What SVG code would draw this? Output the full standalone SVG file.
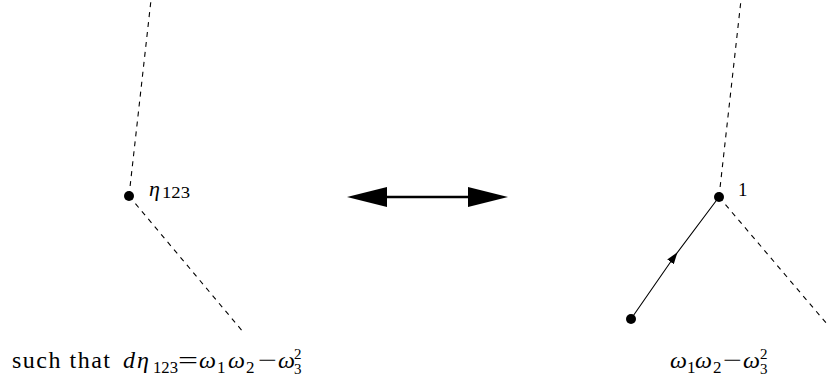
<svg xmlns="http://www.w3.org/2000/svg" width="830" height="382" viewBox="0 0 830 382">
<style>
.dash{stroke:#000;stroke-width:1.1;stroke-dasharray:5,5;fill:none}
.solid{stroke:#000;stroke-width:1.1;fill:none}
.t{font-family:"Liberation Serif","DejaVu Serif",serif;font-size:24px;fill:#000}
.i{font-style:italic}
.s{font-family:"Liberation Serif","DejaVu Serif",serif;font-size:17px;fill:#000}
</style>
<defs>
<marker id="mid" markerWidth="12" markerHeight="8" refX="6" refY="4" orient="auto" markerUnits="userSpaceOnUse">
<path d="M0,0 L12,4 L0,8 Z" fill="#000"/>
</marker>
</defs>
<g id="connectors">
<line class="dash" x1="129" y1="196" x2="151" y2="0"/>
<line class="dash" x1="129" y1="196" x2="244" y2="333"/>
<line class="dash" x1="719" y1="197" x2="741" y2="0"/>
<line class="dash" x1="719" y1="197" x2="827" y2="324"/>
<path class="solid" d="M631,319 L674,257 L719,197" marker-mid="url(#mid)"/>
<g id="double-arrow">
<line x1="380" y1="197" x2="475" y2="197" stroke="#000" stroke-width="2.7"/>
<path d="M347,197 L387,187 L387,207 Z" fill="#000"/>
<path d="M508,197 L468,187 L468,207 Z" fill="#000"/>
</g>
</g>
<g id="node-left">
<circle cx="129" cy="196" r="5" fill="#000"/>
<text class="t i" x="149" y="196" style="font-size:22px">η</text>
<text class="s" x="162" y="198" textLength="28" lengthAdjust="spacingAndGlyphs">123</text>
</g>
<g id="node-right">
<circle cx="719" cy="197" r="5" fill="#000"/>
<text class="s" x="738" y="196" style="font-size:19px">1</text>
</g>
<g id="node-bottom">
<circle cx="631" cy="319" r="5" fill="#000"/>
</g>
<g id="label-left">
<text class="t" x="12" y="368" textLength="98" lengthAdjust="spacing">such that</text>
<text class="t i" x="123" y="368">d</text>
<text class="t i" x="137" y="368">η</text>
<text class="s" x="153" y="373" textLength="25" lengthAdjust="spacingAndGlyphs">123</text>
<text class="t" x="178" y="368" textLength="20" lengthAdjust="spacingAndGlyphs">=</text>
<text class="t i" x="199" y="368">ω</text>
<text class="s" x="217" y="373">1</text>
<text class="t i" x="228" y="368">ω</text>
<text class="s" x="246" y="373">2</text>
<text class="t" x="258" y="368" textLength="19" lengthAdjust="spacingAndGlyphs">−</text>
<text class="t i" x="278" y="368">ω</text>
<text class="s" x="294" y="374" style="font-size:15px">3</text>
<text class="s" x="294" y="359" style="font-size:15px">2</text>
</g>
<g id="label-right">
<text class="t i" x="670" y="368">ω</text>
<text class="s" x="687" y="373">1</text>
<text class="t i" x="695" y="368">ω</text>
<text class="s" x="713" y="373">2</text>
<text class="t" x="723" y="368" textLength="19" lengthAdjust="spacingAndGlyphs">−</text>
<text class="t i" x="743" y="368">ω</text>
<text class="s" x="760" y="374" style="font-size:15px">3</text>
<text class="s" x="760" y="359" style="font-size:15px">2</text>
</g>
</svg>
